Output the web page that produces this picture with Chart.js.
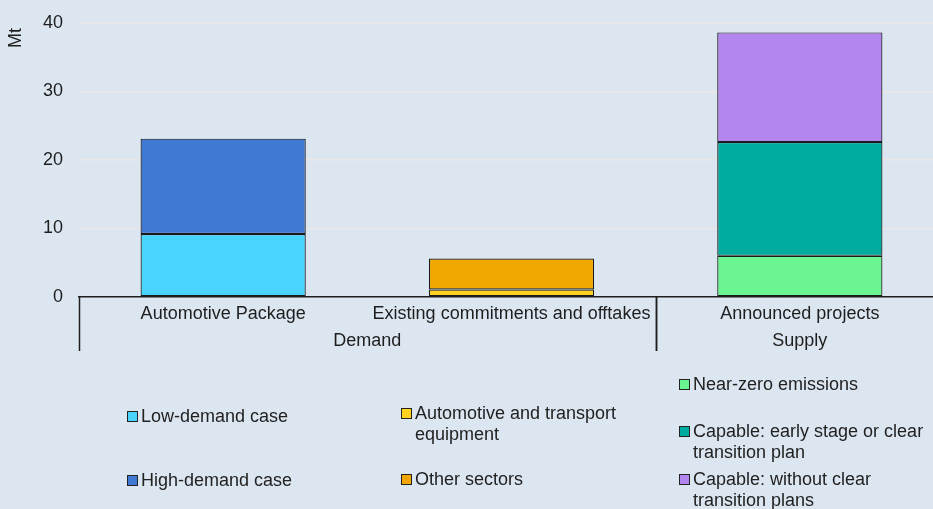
<!DOCTYPE html>
<html>
<head>
<meta charset="utf-8">
<script src="https://cdn.jsdelivr.net/npm/chart.js@4"></script>
<style>
  html, body { margin: 0; padding: 0; background: #dce6f1; overflow: hidden; }
  #wrap { position: relative; width: 944px; height: 509px; }
  #chart { position: absolute; left: 0; top: -4px; }
  #legend { position: absolute; left: 0; top: 0; width: 933px; height: 509px; pointer-events: none; }
  .item { position: absolute; font: 18px "Liberation Sans", Arial, sans-serif; color: #222; line-height: 21px; }
  .item .box { position: absolute; left: -14px; top: 5px; width: 9px; height: 9px; border: 1px solid #222; }
</style>
</head>
<body>
<div id="wrap">
  <canvas id="chart" width="944" height="513"></canvas>
  <div id="legend"></div>
</div>
<script>
const categories = ['Automotive Package', 'Existing commitments and offtakes', 'Announced projects'];
const groups = [['Demand', 0, 1], ['Supply', 2, 2]];
const yTicks = [0, 10, 20, 30, 40];

const lowDemand = [9.2, null, null];
const highDemand = [13.9, null, null];
const autoTransport = [null, 1.1, null];
const otherSectors = [null, 4.5, null];
const nearZero = [null, null, 6.0];
const capableEarly = [null, null, 16.6];
const capableWithout = [null, null, 16.0];

const FONT = '"Liberation Sans", Arial, sans-serif';
const TEXT = '#1e1e1e';

const datasets = [
  { label: 'Low-demand case', data: lowDemand, backgroundColor: '#48d4ff' },
  { label: 'High-demand case', data: highDemand, backgroundColor: '#3f79d4' },
  { label: 'Automotive and transport equipment', data: autoTransport, backgroundColor: '#ffd21f' },
  { label: 'Other sectors', data: otherSectors, backgroundColor: '#f0a800' },
  { label: 'Near-zero emissions', data: nearZero, backgroundColor: '#6af492' },
  { label: 'Capable: early stage or clear transition plan', data: capableEarly, backgroundColor: '#00ab9f' },
  { label: 'Capable: without clear transition plans', data: capableWithout, backgroundColor: '#b386ef' }
].map(d => Object.assign(d, {
  borderColor: '#1a1a1a',
  borderWidth: 1.2,
  borderSkipped: false,
  barPercentage: 0.573,
  categoryPercentage: 1
}));

// legend placement (left of text, top of first line, wrap width)
const legendSpots = [
  [141, 406, 200],
  [141, 470, 200],
  [415, 403, 240],
  [415, 469, 240],
  [693, 374, 240],
  [693, 421, 240],
  [693, 469, 240]
];

const legend = document.getElementById('legend');
datasets.forEach((d, i) => {
  const [x, y, w] = legendSpots[i];
  const el = document.createElement('div');
  el.className = 'item';
  el.style.left = x + 'px';
  el.style.top = y + 'px';
  el.style.width = w + 'px';
  el.innerHTML = `<span class="box" style="background:${d.backgroundColor}"></span>${d.label}`;
  legend.appendChild(el);
});

const extras = {
  id: 'extras',
  afterDraw(chart) {
    const { ctx, chartArea, scales: { x } } = chart;
    ctx.save();
    ctx.strokeStyle = TEXT;
    ctx.lineWidth = 1.5;
    const half = (x.getPixelForTick(1) - x.getPixelForTick(0)) / 2;
    const bottom = chartArea.bottom + 54;
    ctx.fillStyle = TEXT;
    ctx.font = '18px ' + FONT;
    ctx.textAlign = 'center';
    ctx.textBaseline = 'middle';
    groups.forEach(([name, a, b]) => {
      const left = x.getPixelForTick(a) - half;
      const right = x.getPixelForTick(b) + half;
      [left, right].forEach(px => {
        ctx.beginPath();
        ctx.moveTo(Math.round(px) + 0.5, chartArea.bottom);
        ctx.lineTo(Math.round(px) + 0.5, bottom);
        ctx.stroke();
      });
      ctx.fillText(name, (left + right) / 2, chartArea.bottom + 44);
    });
    // y axis title
    ctx.translate(16, 42);
    ctx.rotate(-Math.PI / 2);
    ctx.fillText('Mt', 0, 0);
    ctx.restore();
  }
};

new Chart(document.getElementById('chart'), {
  type: 'bar',
  data: { labels: categories, datasets },
  plugins: [extras],
  options: {
    responsive: false,
    animation: false,
    layout: { padding: 0 },
    plugins: { legend: { display: false }, tooltip: { enabled: false } },
    scales: {
      x: {
        stacked: true,
        grid: { display: false, drawTicks: false },
        border: { display: true, color: TEXT, width: 1.5 },
        ticks: { color: TEXT, font: { family: FONT, size: 18 }, padding: 6, maxRotation: 0, autoSkip: false },
        afterFit(scale) { scale.height = 212; }
      },
      y: {
        stacked: true,
        min: yTicks[0],
        max: yTicks[yTicks.length - 1],
        afterBuildTicks(scale) { scale.ticks = yTicks.map(v => ({ value: v })); },
        grid: { color: '#ebe7e7', lineWidth: 1.5, drawTicks: false },
        border: { display: false },
        ticks: { color: TEXT, font: { family: FONT, size: 18 }, padding: 16 },
        afterFit(scale) { scale.width = 79; }
      }
    }
  }
});
</script>
</body>
</html>
